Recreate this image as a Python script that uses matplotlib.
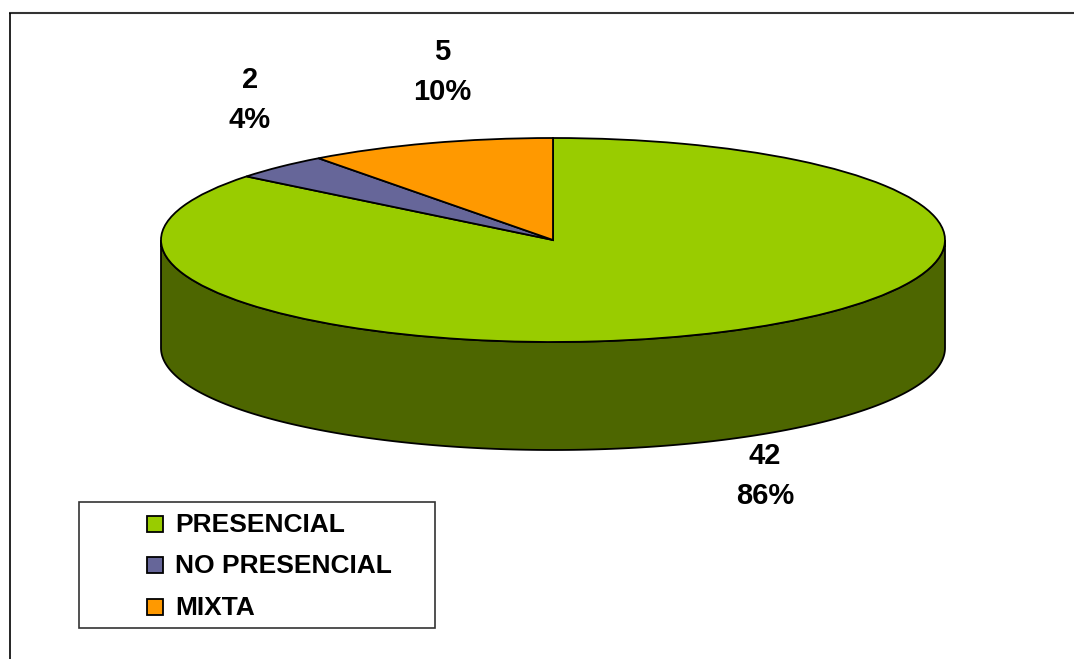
"""
Pie chart with a fake 3D rim, PRESENCIAL / NO PRESENCIAL / MIXTA
"""

import numpy as np
import matplotlib
matplotlib.use('Agg')
import matplotlib.pyplot as plt
import matplotlib.patches as patches

categories = ['PRESENCIAL', 'NO PRESENCIAL', 'MIXTA']
counts = [42, 2, 5]
percents = ['86%', '4%', '10%']
colors = ['#99CC00', '#666699', '#FF9900']
rim_color = '#4D6600'

W, H = 1074, 659
plt.rcParams['font.family'] = ['Liberation Sans', 'DejaVu Sans']
plt.rcParams['font.weight'] = 'bold'

fig = plt.figure(figsize=(W / 100, H / 100), dpi=100)
fig.patch.set_facecolor('white')

# background axes works in image pixels
bg = fig.add_axes([0, 0, 1, 1])
bg.set_xlim(0, W)
bg.set_ylim(H, 0)
bg.axis('off')

# outer frame, only top and left are visible
bg.plot([9, W], [13, 13], color='#333333', linewidth=1.5, solid_capstyle='butt')
bg.plot([9.5, 9.5], [13, H], color='black', linewidth=1.2, solid_capstyle='butt')

# ellipse geometry
cx, cy, rx, ry, depth = 553, 240, 392, 102, 108

# rim of the pie
t = np.linspace(0, np.pi, 200)
rim_x = cx - rx * np.cos(t)
rim_top = cy + ry * np.sin(t)
rim = np.concatenate([np.column_stack([rim_x, rim_top + depth]),
                      np.column_stack([rim_x, rim_top])[::-1]])
bg.add_patch(patches.Polygon(rim, closed=True, facecolor=rim_color,
                             edgecolor='black', linewidth=1.3))

# top of the pie, squashed by giving the axes the ellipse's box
pie_ax = fig.add_axes([(cx - rx) / W, 1 - (cy + ry) / H, 2 * rx / W, 2 * ry / H])
pie_ax.patch.set_alpha(0)
pie_ax.pie(counts, colors=colors, startangle=90, counterclock=False, radius=1,
           wedgeprops={'edgecolor': 'black', 'linewidth': 1.3, 'clip_on': False})
pie_ax.set_aspect('auto')
pie_ax.set_xlim(-1, 1)
pie_ax.set_ylim(-1, 1)
pie_ax.axis('off')

# data labels
label_pos = [(765, 476), (250, 100), (442, 72)]
for n, pct, (x, y) in zip(counts, percents, label_pos):
    bg.text(x, y - 20, str(n), fontsize=21, ha='center', va='center')
    bg.text(x, y + 20, pct, fontsize=21, ha='center', va='center')

# legend box
bg.add_patch(patches.Rectangle((79, 502), 356, 126, facecolor='white',
                               edgecolor='#333333', linewidth=1.2))
rows = [524, 565, 607]
for name, col, y in zip(categories, colors, rows):
    bg.add_patch(patches.Rectangle((147, y - 8), 16, 16, facecolor=col,
                                   edgecolor='black', linewidth=1.3))
    bg.text(175, y + 1, name, fontsize=19, va='center', ha='left')

fig.savefig('out.png', dpi=100)
plt.close(fig)
